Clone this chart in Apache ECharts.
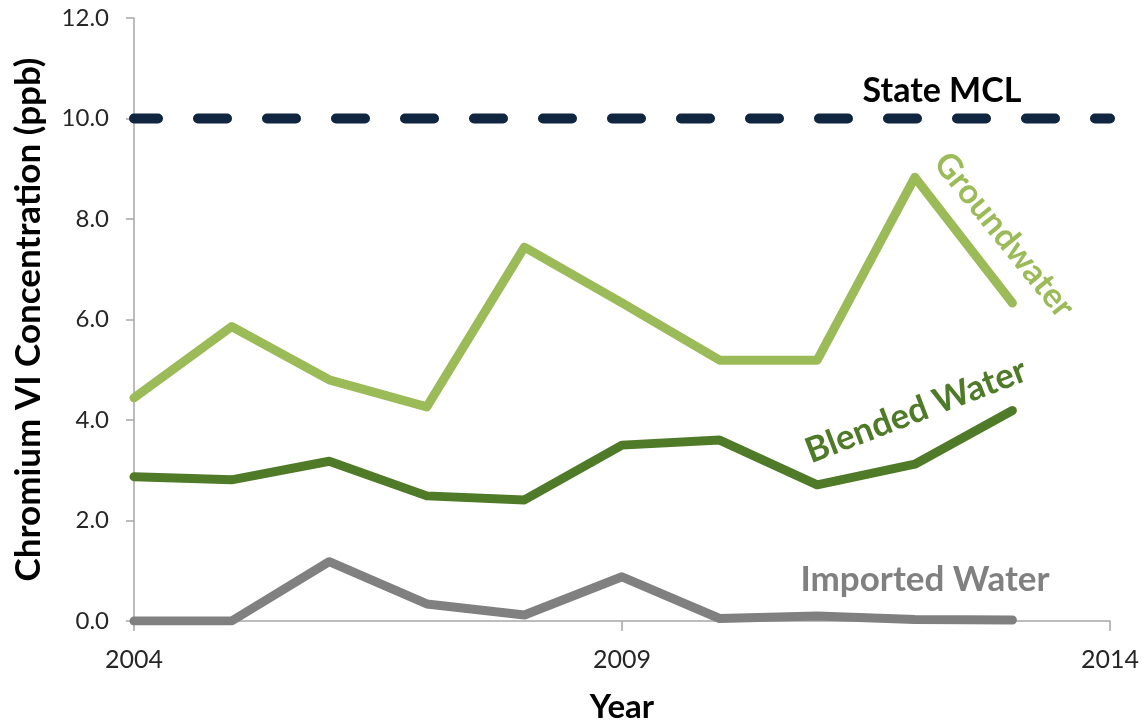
<!DOCTYPE html>
<html>
<head>
<meta charset="utf-8">
<script src="https://cdn.jsdelivr.net/npm/echarts@6/dist/echarts.min.js"></script>
<style>html,body{margin:0;padding:0;background:#fff;}#c{width:1148px;height:726px;}</style>
</head>
<body>
<div id="c"></div>
<script>
const years = [2004, 2005, 2006, 2007, 2008, 2009, 2010, 2011, 2012, 2013];
const groundwater = [4.44, 5.86, 4.80, 4.26, 7.44, 6.33, 5.19, 5.19, 8.83, 6.33];
const blended = [2.87, 2.81, 3.18, 2.49, 2.41, 3.50, 3.60, 2.71, 3.12, 4.19];
const imported = [0.00, 0.00, 1.18, 0.34, 0.12, 0.88, 0.05, 0.10, 0.03, 0.02];
const mclYears = [2004, 2014];
const mclValue = 10;
const xTicks = [2004, 2009, 2014];
const yTicks = [0, 2, 4, 6, 8, 10, 12];

const FONT = 'Lato';
const chart = echarts.init(document.getElementById('c'));
const pair = (xs, ys) => xs.map((x, i) => [x, ys[i]]);
const lineSeries = (name, data, color, width) => ({
  name, type: 'line', data, symbol: 'none', clip: true, silent: true,
  lineStyle: { color, width, cap: 'round', join: 'round' }
});

chart.setOption({
  animation: false,
  grid: { left: 134, right: 38, top: 18, bottom: 105, containLabel: false, outerBoundsMode: 'none' },
  xAxis: {
    type: 'value', min: xTicks[0], max: xTicks[xTicks.length - 1], interval: 5,
    name: 'Year', nameLocation: 'middle', nameGap: 70,
    nameTextStyle: { fontFamily: FONT, fontWeight: 'bold', fontSize: 33, color: '#000' },
    axisLine: { lineStyle: { color: '#a6a6a6', width: 1.5 } },
    axisTick: { show: true, length: 10, lineStyle: { color: '#a6a6a6', width: 1.5 } },
    axisLabel: { fontFamily: FONT, fontSize: 25, color: '#262626', margin: 26, formatter: v => String(v) },
    splitLine: { show: false }
  },
  yAxis: {
    type: 'value', min: yTicks[0], max: yTicks[yTicks.length - 1], interval: 2,
    name: 'Chromium VI Concentration (ppb)', nameLocation: 'middle', nameGap: 88,
    nameTextStyle: { fontFamily: FONT, fontWeight: 'bold', fontSize: 35, color: '#000' },
    axisLine: { show: true, lineStyle: { color: '#a6a6a6', width: 1.5 } },
    axisTick: { show: true, length: 8, lineStyle: { color: '#a6a6a6', width: 1.5 } },
    axisLabel: { fontFamily: FONT, fontSize: 24, color: '#262626', margin: 25, formatter: v => v.toFixed(1) },
    splitLine: { show: false }
  },
  series: [
    lineSeries('Imported Water', pair(years, imported), '#808080', 9),
    lineSeries('Blended Water', pair(years, blended), '#4f7a28', 9),
    lineSeries('Groundwater', pair(years, groundwater), '#9bbb59', 9),
    {
      name: 'State MCL', type: 'line', data: mclYears.map(x => [x, mclValue]), symbol: 'none', clip: true, silent: true,
      lineStyle: { color: '#10253f', width: 10, cap: 'round', type: [29, 40], dashOffset: 5 }
    }
  ],
  graphic: [
    { type: 'text', x: 942, y: 91, style: { text: 'State MCL', fontFamily: FONT, fontWeight: 'bold', fontSize: 34, fill: '#000', align: 'center', verticalAlign: 'middle' } },
    { type: 'text', x: 1004, y: 235, rotation: -51 * Math.PI / 180, style: { text: 'Groundwater', fontFamily: FONT, fontWeight: 'bold', fontSize: 34, fill: '#9bbb59', align: 'center', verticalAlign: 'middle' } },
    { type: 'text', x: 916, y: 411, rotation: 21 * Math.PI / 180, style: { text: 'Blended Water', fontFamily: FONT, fontWeight: 'bold', fontSize: 35, fill: '#4f7a28', align: 'center', verticalAlign: 'middle' } },
    { type: 'text', x: 925, y: 580, style: { text: 'Imported Water', fontFamily: FONT, fontWeight: 'bold', fontSize: 35, fill: '#808080', align: 'center', verticalAlign: 'middle' } }
  ]
});
</script>
</body>
</html>
